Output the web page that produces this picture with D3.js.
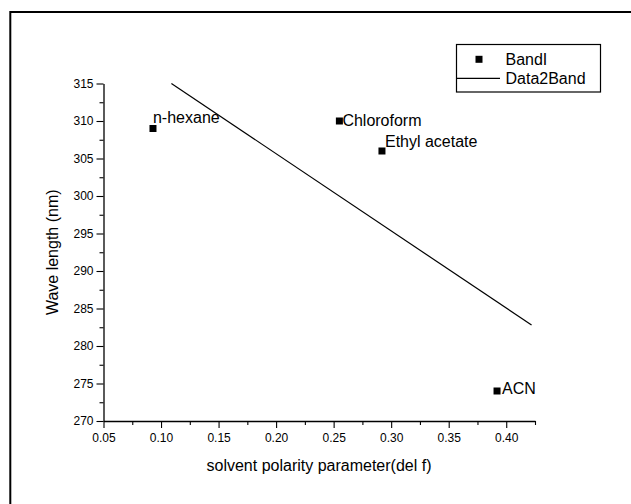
<!DOCTYPE html>
<html>
<head>
<meta charset="utf-8">
<script src="https://cdn.jsdelivr.net/npm/d3@7"></script>
<style>
  html, body { margin: 0; padding: 0; background: #fff; }
  svg { display: block; font-family: Arial, "Liberation Sans", sans-serif; }
</style>
</head>
<body>
<svg id="chart" width="631" height="504"></svg>
<script>
// solvents and the measured band maxima
const solvents = ['n-hexane', 'Chloroform', 'Ethyl acetate', 'ACN'];
const polarity = [0.093, 0.255, 0.292, 0.392];
const waveLength = [309, 310, 306, 274];

// fitted line (Data2Band), end points
const fitX = [0.109, 0.422];
const fitY = [315, 282.8];

const xTicks = [0.05, 0.10, 0.15, 0.20, 0.25, 0.30, 0.35, 0.40];
const xMinor = [0.075, 0.125, 0.175, 0.225, 0.275, 0.325, 0.375, 0.425];
const yTicks = [270, 275, 280, 285, 290, 295, 300, 305, 310, 315];
const yMinor = [272.5, 277.5, 282.5, 287.5, 292.5, 297.5, 302.5, 307.5, 312.5];

const legendNames = ['BandI', 'Data2Band'];

// label nudges in px, relative to each point (hand placed in original)
const labelNudge = [[0, -6], [3, 5], [3, -4], [5, 3]];

const svg = d3.select('#chart');

const x = d3.scaleLinear().domain([0.05, 0.425]).range([103.5, 535]);
const y = d3.scaleLinear().domain([270, 315]).range([421, 83.5]);

// page frame (top and left edge only, cropped)
svg.append('line')
  .attr('x1', 10.3).attr('y1', 12).attr('x2', 631).attr('y2', 12)
  .attr('stroke', '#000').attr('stroke-width', 2);
svg.append('line')
  .attr('x1', 10.3).attr('y1', 11).attr('x2', 10.3).attr('y2', 504)
  .attr('stroke', '#000').attr('stroke-width', 2);

const styleAxis = g => {
  g.selectAll('path').attr('stroke', '#000').attr('stroke-width', 1.3);
  g.selectAll('line').attr('stroke', '#000').attr('stroke-width', 1.1);
  g.selectAll('text')
    .attr('fill', '#000')
    .style('font-size', '12px')
    .style('font-family', 'Arial, "Liberation Sans", sans-serif');
};

// x axis
svg.append('g')
  .attr('transform', `translate(0,${y(270)})`)
  .call(d3.axisBottom(x).tickValues(xMinor).tickSize(4).tickSizeOuter(0).tickFormat(''))
  .call(styleAxis);
svg.append('g')
  .attr('transform', `translate(0,${y(270)})`)
  .call(d3.axisBottom(x).tickValues(xTicks).tickSize(7).tickSizeOuter(0).tickPadding(5)
    .tickFormat(d3.format('.2f')))
  .call(styleAxis)
  .call(g => g.select('path').remove());

// y axis
svg.append('g')
  .attr('transform', `translate(${x(0.05)},0)`)
  .call(d3.axisLeft(y).tickValues(yMinor).tickSize(4).tickSizeOuter(0).tickFormat(''))
  .call(styleAxis);
svg.append('g')
  .attr('transform', `translate(${x(0.05)},0)`)
  .call(d3.axisLeft(y).tickValues(yTicks).tickSize(7).tickSizeOuter(0).tickPadding(3))
  .call(styleAxis)
  .call(g => g.select('path').remove());

// axis titles
svg.append('text')
  .attr('x', 319).attr('y', 471)
  .attr('text-anchor', 'middle')
  .style('font-size', '16px')
  .text('solvent polarity parameter(del f)');

svg.append('text')
  .attr('transform', `translate(58,${(y(270) + y(315)) / 2}) rotate(-90)`)
  .attr('text-anchor', 'middle')
  .style('font-size', '16px')
  .text('Wave length (nm)');

// fitted line
const fitPts = fitX.map((d, i) => [d, fitY[i]]);
svg.append('path')
  .datum(fitPts)
  .attr('fill', 'none')
  .attr('stroke', '#000')
  .attr('stroke-width', 1.2)
  .attr('d', d3.line().x(d => x(d[0])).y(d => y(d[1])));

// points
const pts = solvents.map((s, i) => ({ name: s, px: polarity[i], wl: waveLength[i], nudge: labelNudge[i] }));
const sq = 7;

svg.append('g')
  .selectAll('rect')
  .data(pts)
  .enter()
  .append('rect')
  .attr('x', d => x(d.px) - sq / 2)
  .attr('y', d => y(d.wl) - sq / 2)
  .attr('width', sq)
  .attr('height', sq)
  .attr('fill', '#000');

svg.append('g')
  .selectAll('text')
  .data(pts)
  .enter()
  .append('text')
  .attr('x', d => x(d.px) + d.nudge[0])
  .attr('y', d => y(d.wl) + d.nudge[1])
  .style('font-size', '16px')
  .attr('fill', '#000')
  .text(d => d.name);

// legend
const lg = svg.append('g');
lg.append('rect')
  .attr('x', 456.5).attr('y', 44.5)
  .attr('width', 144).attr('height', 47.5)
  .attr('fill', '#fff')
  .attr('stroke', '#000')
  .attr('stroke-width', 1.2);
lg.append('rect')
  .attr('x', 479 - sq / 2).attr('y', 59.3 - sq / 2)
  .attr('width', sq).attr('height', sq)
  .attr('fill', '#000');
lg.append('line')
  .attr('x1', 456.5).attr('x2', 500)
  .attr('y1', 78.3).attr('y2', 78.3)
  .attr('stroke', '#000').attr('stroke-width', 1.2);
lg.selectAll('text.legend-label')
  .data(legendNames)
  .enter()
  .append('text')
  .attr('class', 'legend-label')
  .attr('x', 505.5)
  .attr('y', (d, i) => 64.5 + i * 19.5)
  .style('font-size', '16px')
  .text(d => d);
</script>
</body>
</html>
